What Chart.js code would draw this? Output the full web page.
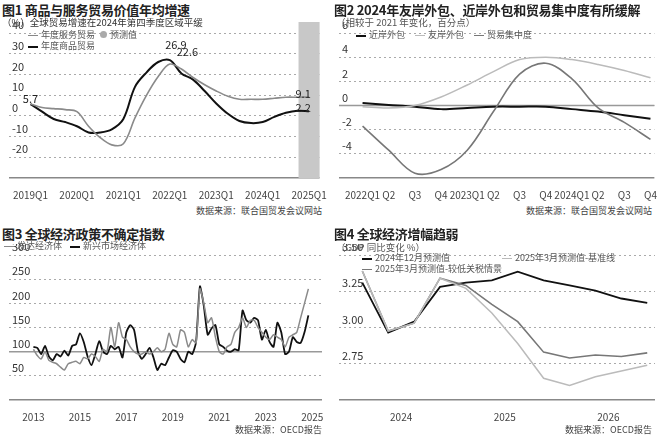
<!DOCTYPE html>
<html><head><meta charset="utf-8">
<script src="https://cdn.jsdelivr.net/npm/chart.js@4"></script>
<style>
body{margin:0;width:660px;height:436px;background:#fff;font-family:"Noto Sans CJK SC",sans-serif;position:relative;overflow:hidden;color:#222}
.t{position:absolute;white-space:nowrap}
.h{font-size:13px;font-weight:bold;color:#222;letter-spacing:-0.3px}
.s{font-size:9.5px;color:#333}
.lg{font-size:9px;color:#555}
.src{font-size:9px;color:#444}
.box{position:absolute}
i.k{display:inline-block;width:10px;height:0;border-top:2px solid;vertical-align:middle;margin-right:3px}
</style></head><body>
<div class="box" style="left:0;top:22px;width:330px;height:182px"><canvas id="c1"></canvas></div>
<div class="box" style="left:330px;top:22px;width:330px;height:182px"><canvas id="c2"></canvas></div>
<div class="box" style="left:0;top:244px;width:330px;height:182px"><canvas id="c3"></canvas></div>
<div class="box" style="left:330px;top:244px;width:330px;height:182px"><canvas id="c4"></canvas></div>

<div class="t h" style="left:2px;top:0px">图1 商品与服务贸易价值年均增速</div>
<div class="t s" style="left:2px;top:15px">（%）全球贸易增速在2024年第四季度区域平缓</div>
<div class="t h" style="left:334px;top:0px">图2 2024年友岸外包、近岸外包和贸易集中度有所缓解</div>
<div class="t s" style="left:336px;top:15px;color:#555">（相较于 2021 年变化，百分点）</div>
<div class="t h" style="left:2px;top:224px">图3 全球经济政策不确定指数</div>
<div class="t h" style="left:334px;top:224px">图4 全球经济增幅趋弱</div>
<div class="t s" style="left:336px;top:240px;color:#555">（GDP 同比变化 %）</div>

<div class="t lg" style="left:28px;top:28px"><i class="k" style="border-color:#888;border-top-width:1.5px"></i>年度服务贸易</div>
<div class="t lg" style="left:100px;top:28px"><span style="display:inline-block;width:7px;height:7px;border-radius:50%;background:#aaa;margin-right:3px"></span>预测值</div>
<div class="t lg" style="left:28px;top:39px"><i class="k" style="border-color:#111"></i>年度商品贸易</div>
<div class="t lg" style="left:356px;top:28px"><i class="k" style="border-color:#111"></i>近岸外包</div>
<div class="t lg" style="left:415px;top:28px"><i class="k" style="border-color:#bbb;border-top-width:1.5px"></i>友岸外包</div>
<div class="t lg" style="left:474px;top:28px"><i class="k" style="border-color:#777;border-top-width:1.5px"></i>贸易集中度</div>
<div class="t lg" style="left:4px;top:239px"><i class="k" style="border-color:#888;border-top-width:1.5px"></i>发达经济体</div>
<div class="t lg" style="left:70px;top:239px"><i class="k" style="border-color:#111"></i>新兴市场经济体</div>
<div class="t lg" style="left:362px;top:251px"><i class="k" style="border-color:#111"></i>2024年12月预测值</div>
<div class="t lg" style="left:502px;top:251px"><i class="k" style="border-color:#bbb;border-top-width:1.5px"></i>2025年3月预测值-基准线</div>
<div class="t lg" style="left:362px;top:262px"><i class="k" style="border-color:#777;border-top-width:1.5px"></i>2025年3月预测值-较低关税情景</div>

<div class="t src" style="right:338px;top:204px">数据来源：联合国贸发会议网站</div>
<div class="t src" style="right:8px;top:204px">数据来源：联合国贸发会议网站</div>
<div class="t src" style="right:338px;top:423px">数据来源：OECD报告</div>
<div class="t src" style="right:8px;top:423px">数据来源：OECD报告</div>
<script>
// 图1
const quarters1 = ['2019Q1','2019Q2','2019Q3','2019Q4','2020Q1','2020Q2','2020Q3','2020Q4','2021Q1','2021Q2','2021Q3','2021Q4','2022Q1','2022Q2','2022Q3','2022Q4','2023Q1','2023Q2','2023Q3','2023Q4','2024Q1','2024Q2','2024Q3','2024Q4','2025Q1'];
const services1 = [5.7,4,3.5,3,2,-5,-10.5,-14,-13.5,-1,10,19,25,22.6,18.5,15,12,9.5,8,8,8,8.5,9,9,9.1];
const goods1 = [5.7,2,-1.5,-3,-5,-8,-8,-6.5,-1.5,14,21,26,26.9,20.5,17.5,12,6,1,-2.5,-3.5,-3,-0.5,1.5,2.5,2.2];
const notes1 = [[1,0,'5.7',-2,0],[1,12,'26.9',8,6],[0,13,'22.6',10,6],[0,24,'9.1',-4,-6],[1,24,'2.2',-4,-6]];
// 图2
const quarters2 = ['2022Q1','Q2','Q3','Q4','2023Q1','Q2','Q3','Q4','2024Q1','Q2','Q3','Q4'];
const nearshore = [0.2,0.05,-0.1,-0.3,-0.2,-0.1,-0.1,-0.1,-0.3,-0.5,-0.8,-1.1];
const friendshore = [-0.1,-0.2,0,0.7,1.7,2.8,3.8,4.0,3.8,3.4,2.9,2.3];
const concentration = [-1.7,-3.7,-5.6,-5.3,-3.7,-0.5,2.6,3.5,2.2,-0.2,-1.4,-2.8];
// 图3 (每两个月)
const months3 = [];
for (let y = 2013; y < 2025; y++) for (let m = 0; m < 12; m += 2) months3.push(y + m / 12);
const emerging = [110,108,95,112,90,82, 95,90,102,92,112,115, 138,120,90,72,95,122, 100,95,112,105,110,88,
  140,155,145,100,85,95, 108,88,62,75,72,88, 103,100,85,78,100,95, 120,235,195,135,148,155,
  115,110,102,100,105,103, 185,165,160,170,165,125, 145,120,110,160,140,95, 100,130,120,118,140,175];
const developed = [105,92,85,100,82,78, 75,68,62,75,78,80, 75,88,85,95,90,80, 105,100,150,110,160,130,
  125,110,100,95,95,100, 95,100,108,100,105,138, 115,110,145,140,110,125, 118,230,200,160,170,130,
  100,95,110,115,140,150, 170,150,165,165,150,140, 130,125,135,130,125,110, 130,135,140,170,200,230];
// 图4
const quarters4 = [2023.625,2023.875,2024.125,2024.375,2024.625,2024.875,2025.125,2025.375,2025.625,2025.875,2026.125,2026.375];
const dec2024 = [3.31,2.965,3.04,3.28,3.31,3.325,3.385,3.325,3.29,3.255,3.2,3.17];
const mar2025Base = [3.39,2.975,3.03,3.34,3.27,3.10,2.89,2.65,2.60,2.66,2.70,2.74];
const mar2025Low = [3.39,2.975,3.03,3.34,3.29,3.16,3.04,2.83,2.79,2.81,2.80,2.825];

const FONT = '"Noto Sans CJK SC", sans-serif';
const tickFont = {family: FONT, size: 10};

const extras = {
  id: 'extras',
  beforeDatasetsDraw(chart, args, o) {
    const {ctx, chartArea: a} = chart;
    const x = chart.scales.x, y = chart.scales.y;
    ctx.save();
    if (o.shadeFrom !== undefined) {
      ctx.fillStyle = '#c8c8c8';
      const px = x.getPixelForValue(o.shadeFrom) + 1;
      ctx.fillRect(px, a.top - 12, a.right - px, a.bottom - a.top + 12);
    }
    if (o.refLine !== undefined) {
      ctx.strokeStyle = '#999'; ctx.lineWidth = 1.5;
      const py = y.getPixelForValue(o.refLine);
      ctx.beginPath(); ctx.moveTo(a.left, py); ctx.lineTo(a.right, py); ctx.stroke();
    }
    ctx.restore();
  },
  afterDatasetsDraw(chart, args, o) {
    if (!o.notes) return;
    const {ctx} = chart;
    ctx.save();
    ctx.font = '11px ' + FONT; ctx.fillStyle = '#222'; ctx.textAlign = 'center'; ctx.textBaseline = 'bottom';
    o.notes.forEach(([ds, i, txt, dy, dx]) => {
      const p = chart.getDatasetMeta(ds).data[i];
      ctx.fillText(txt, p.x + dx, p.y - dy - 2);
    });
    ctx.restore();
  }
};

function yAxis(min, max, step, hide, fmt) {
  return {
    min: min, max: max,
    ticks: {stepSize: step, mirror: true, labelOffset: -8, padding: 3, color: '#333', font: {family: FONT, size: 11},
      callback: v => (v === hide ? '' : (fmt ? fmt(v) : v))},
    grid: {color: c => (c.tick.value === min ? '#888' : '#aaa'), drawTicks: false, lineWidth: c => (c.tick.value === min ? 1.5 : 1)},
    border: {display: false, dash: c => (c.tick.value === min ? [] : [2, 3])}
  };
}
function xLinear(min, max, ticks, label) {
  return {type: 'linear', min: min, max: max, grid: {display: false}, border: {display: false},
    afterBuildTicks: s => { s.ticks = ticks.map(v => ({value: v})); },
    ticks: {autoSkip: false, maxRotation: 0, color: '#444', font: tickFont, callback: label}};
}
function line(xs, ys, color, w, t) {
  return {data: ys.map((v, i) => ({x: xs[i], y: v})), borderColor: color, borderWidth: w, pointRadius: 0, tension: t, fill: false};
}
function base(extra) {
  return {
    responsive: true, maintainAspectRatio: false, animation: false,
    plugins: {legend: {display: false}, tooltip: {enabled: false}, extras: extra},
    layout: {padding: {left: 3, right: 8, top: 11, bottom: 0}}
  };
}

const idx1 = quarters1.map((q, i) => i);
const o1 = base({shadeFrom: 23, notes: notes1});
o1.scales = {
  x: xLinear(-1.85, 24.9, idx1.filter(i => i % 4 === 0), v => quarters1[v]),
  y: yAxis(-30, 40, 10, -30)
};
new Chart(document.getElementById('c1'), {type: 'line',
  data: {datasets: [line(idx1, services1, '#8a8a8a', 1.6, 0.35), line(idx1, goods1, '#111', 2, 0.35)]}, options: o1, plugins: [extras]});

const idx2 = quarters2.map((q, i) => i);
const o2 = base({refLine: 0});
o2.layout.padding.right = 5;
o2.scales = {
  x: xLinear(-0.9, 11.15, idx2, v => quarters2[v]),
  y: yAxis(-6, 6, 2, -6)
};
new Chart(document.getElementById('c2'), {type: 'line',
  data: {datasets: [line(idx2, friendshore, '#bbb', 1.5, 0.35), line(idx2, concentration, '#777', 1.6, 0.35), line(idx2, nearshore, '#111', 2, 0.35)]}, options: o2, plugins: [extras]});

const o3 = base({refLine: 100});
o3.scales = {
  x: xLinear(2011.95, 2025.42, [2013, 2015, 2017, 2019, 2021, 2023, 2025], v => v),
  y: yAxis(0, 300, 50, 0)
};
new Chart(document.getElementById('c3'), {type: 'line',
  data: {datasets: [line(months3, developed, '#8a8a8a', 1.5, 0.2), line(months3, emerging, '#111', 1.8, 0.2)]},
  options: o3, plugins: [extras]});

const o4 = base({});
o4.layout.padding.right = 5;
o4.scales = {
  x: xLinear(2023.4, 2026.45, [2024, 2025, 2026], v => v),
  y: yAxis(2.5, 3.5, 0.25, 2.5, v => v.toFixed(2))
};
new Chart(document.getElementById('c4'), {type: 'line',
  data: {datasets: [line(quarters4, mar2025Base, '#bbb', 1.5, 0), line(quarters4, mar2025Low, '#777', 1.6, 0), line(quarters4, dec2024, '#111', 1.8, 0)]},
  options: o4, plugins: [extras]});
</script>
</body></html>
